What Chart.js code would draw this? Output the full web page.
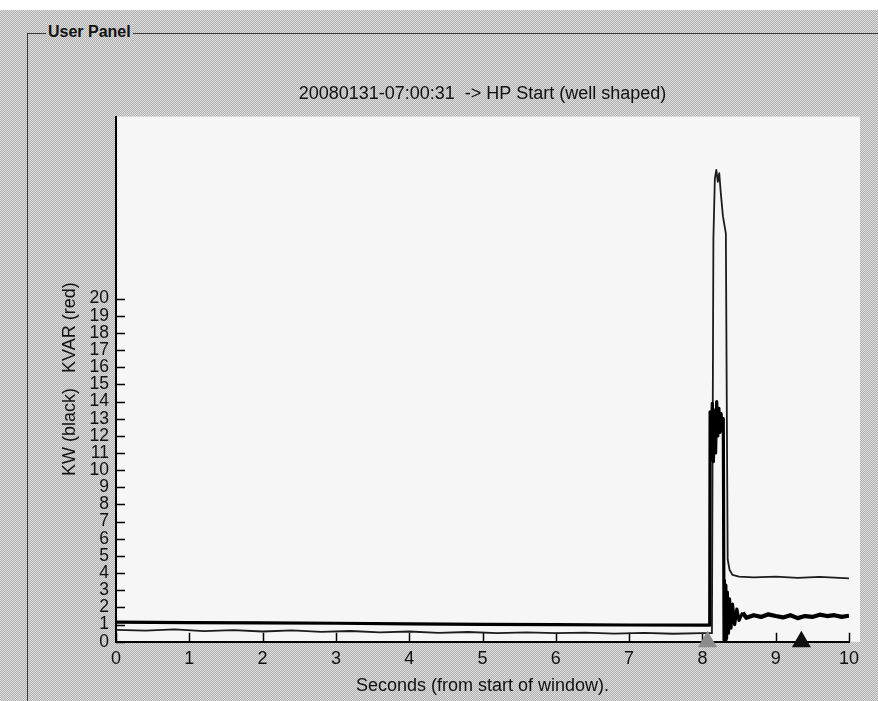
<!DOCTYPE html>
<html>
<head>
<meta charset="utf-8">
<title>HP Start</title>
<script src="https://cdn.jsdelivr.net/npm/chart.js@4.4.1/dist/chart.umd.min.js"></script>
<style>
  html, body { margin: 0; padding: 0; background: #fff; }
  #panel {
    position: absolute; left: 0; top: 10px; width: 878px; height: 691px;
    background: repeating-conic-gradient(#b0b0b0 0% 25%, #dedede 0% 50%) 0 0 / 2px 2px;
  }
  #box {
    position: absolute; left: 27px; top: 23px; width: 880px; height: 700px;
    margin: 0; padding: 0; box-sizing: border-box;
    border: none; border-top: 1px solid #3a3a3a; border-left: 1px solid #3a3a3a;
  }
  #box span {
    position: absolute; left: 18px; top: -11px; padding: 0 2px;
    font: bold 16px "Liberation Sans", Arial, sans-serif; color: #111;
    background: repeating-conic-gradient(#b0b0b0 0% 25%, #dedede 0% 50%) 0 0 / 2px 2px;
  }
  #myChart { position: absolute; left: 0; top: 0; }
</style>
</head>
<body>
<div id="panel"><div id="box"><span>User Panel</span></div></div>
<canvas id="myChart" width="878" height="701"></canvas>
<script>
// KW (black) trace, seconds from start of window
const kwTime = [0, 1, 2, 3, 4, 5, 6, 7, 8.0, 8.1, 8.105, 8.12, 8.135, 8.15, 8.165, 8.18, 8.195, 8.21, 8.225, 8.24,
  8.255, 8.27, 8.285, 8.295, 8.3, 8.31, 8.32, 8.33, 8.34, 8.355, 8.37, 8.39, 8.41, 8.44, 8.47, 8.5, 8.55, 8.6,
  8.7, 8.8, 8.9, 9.0, 9.1, 9.2, 9.3, 9.4, 9.5, 9.6, 9.7, 9.8, 9.9, 10];
const kwValue = [1.15, 1.12, 1.1, 1.08, 1.05, 1.02, 1.0, 0.98, 0.97, 0.97, 13.4, 10.6, 13.9, 10.5, 13.5, 11.0, 14.0, 12.0, 13.6, 12.2,
  13.3, 12.4, 13.0, 0.1, 3.6, 0.0, 3.3, 0.2, 2.9, 0.5, 2.5, 0.8, 2.2, 1.0, 1.9, 1.25, 1.7, 1.4,
  1.55, 1.45, 1.6, 1.5, 1.42, 1.55, 1.38, 1.5, 1.45, 1.58, 1.5, 1.55, 1.45, 1.52];

// KVAR (red) trace
const kvarTime = [0, 0.4, 0.8, 1.2, 1.6, 2.0, 2.4, 2.8, 3.2, 3.6, 4.0, 4.4, 4.8, 5.2, 5.6, 6.0, 6.4, 6.8, 7.2, 7.6, 8.0,
  8.13, 8.15, 8.17, 8.19, 8.21, 8.23, 8.25, 8.28, 8.32, 8.335, 8.345, 8.37, 8.41, 8.5, 8.7, 9.0, 9.3, 9.6, 10];
const kvarValue = [0.7, 0.65, 0.72, 0.62, 0.68, 0.6, 0.66, 0.58, 0.63, 0.55, 0.6, 0.52, 0.57, 0.5, 0.55, 0.5, 0.53, 0.48, 0.52, 0.47, 0.5,
  0.5, 23.5, 27.0, 27.5, 26.8, 27.3, 26.2, 24.8, 23.8, 12, 4.8, 4.2, 3.9, 3.8, 3.75, 3.8, 3.72, 3.78, 3.7];

// event markers on the time axis
const markerTime = [8.07, 9.35];
const markerColor = ['#8c8c8c', '#111111'];

const xTicks = [0, 1, 2, 3, 4, 5, 6, 7, 8, 9, 10];
const yTicks = [0, 1, 2, 3, 4, 5, 6, 7, 8, 9, 10, 11, 12, 13, 14, 15, 16, 17, 18, 19, 20];

const chartTitle = '20080131-07:00:31  -> HP Start (well shaped)';
const xTitle = 'Seconds (from start of window).';
const yTitle = 'KW (black)   KVAR (red)';

function toPoints(xs, ys) {
  return xs.map((x, i) => ({ x: x, y: ys[i] }));
}

// white plot background, a bit wider than the axis
const plotBack = {
  id: 'plotBack',
  beforeDraw(chart) {
    const a = chart.chartArea, ctx = chart.ctx;
    ctx.save();
    ctx.fillStyle = '#f6f6f6';
    ctx.fillRect(a.left, a.top, a.right - a.left + 11, a.bottom - a.top);
    ctx.restore();
  }
};

// tick marks pointing into the plot
const innerTicks = {
  id: 'innerTicks',
  beforeDatasetsDraw(chart) {
    const ctx = chart.ctx, a = chart.chartArea;
    const xs = chart.scales.x, ys = chart.scales.y;
    ctx.save();
    ctx.strokeStyle = '#000';
    ctx.lineWidth = 1.5;
    ctx.beginPath();
    xTicks.forEach(v => {
      const px = Math.round(xs.getPixelForValue(v)) + 0.5;
      ctx.moveTo(px, a.bottom);
      ctx.lineTo(px, a.bottom - 9);
    });
    yTicks.forEach(v => {
      const py = Math.round(ys.getPixelForValue(v)) + 0.5;
      ctx.moveTo(a.left, py);
      ctx.lineTo(a.left + 9, py);
    });
    ctx.stroke();
    ctx.restore();
  }
};

Chart.defaults.font.family = "'Liberation Sans', Arial, sans-serif";
Chart.defaults.color = '#111';

const config = {
  type: 'line',
  data: {
    datasets: [
      {
        type: 'scatter',
        label: 'markers',
        data: toPoints(markerTime, markerTime.map(() => 0)),
        pointStyle: 'triangle',
        pointRadius: 11,
        pointBackgroundColor: markerColor,
        pointBorderColor: markerColor,
        pointBorderWidth: 0,
        clip: false
      },
      {
        label: 'KW',
        data: toPoints(kwTime, kwValue),
        borderColor: '#000',
        borderWidth: 3.2,
        borderJoinStyle: 'round',
        pointRadius: 0,
        tension: 0,
        segment: { borderWidth: ctx => ctx.p0.parsed.x >= 8.55 ? 4.2 : undefined }
      },
      {
        label: 'KVAR',
        data: toPoints(kvarTime, kvarValue),
        borderColor: '#1c1c1c',
        borderWidth: 1.8,
        borderJoinStyle: 'round',
        pointRadius: 0,
        tension: 0
      }
    ]
  },
  options: {
    responsive: false,
    animation: false,
    devicePixelRatio: 1,
    layout: { padding: { left: 50, right: 29, top: 83, bottom: 4 } },
    plugins: {
      legend: { display: false },
      tooltip: { enabled: false },
      title: {
        display: true,
        text: chartTitle,
        fullSize: false,
        color: '#111',
        font: { size: 18, weight: 'normal' },
        padding: { top: 0, bottom: 12 }
      }
    },
    scales: {
      x: {
        type: 'linear',
        min: 0,
        max: 10,
        grid: { display: false, drawTicks: false },
        border: { display: true, color: '#000', width: 2 },
        ticks: { font: { size: 18 }, padding: 6, color: '#111', autoSkip: false, maxRotation: 0 },
        afterBuildTicks: s => { s.ticks = xTicks.map(v => ({ value: v })); },
        title: { display: true, text: xTitle, color: '#111', font: { size: 18 }, padding: { top: 0, bottom: 0 } }
      },
      y: {
        type: 'linear',
        min: 0,
        max: 30.6,
        grid: { display: false, drawTicks: false },
        border: { display: true, color: '#000', width: 2 },
        ticks: { font: { size: 17.5 }, padding: 7, color: '#111', autoSkip: false },
        afterBuildTicks: s => { s.ticks = yTicks.map(v => ({ value: v })); },
        afterFit: s => { s.width = 66; },
        title: { display: true, text: yTitle, color: '#111', font: { size: 18 }, padding: { top: 9, bottom: 0 } }
      }
    }
  },
  plugins: [plotBack, innerTicks]
};

const myChart = new Chart(document.getElementById('myChart'), config);
</script>
</body>
</html>
